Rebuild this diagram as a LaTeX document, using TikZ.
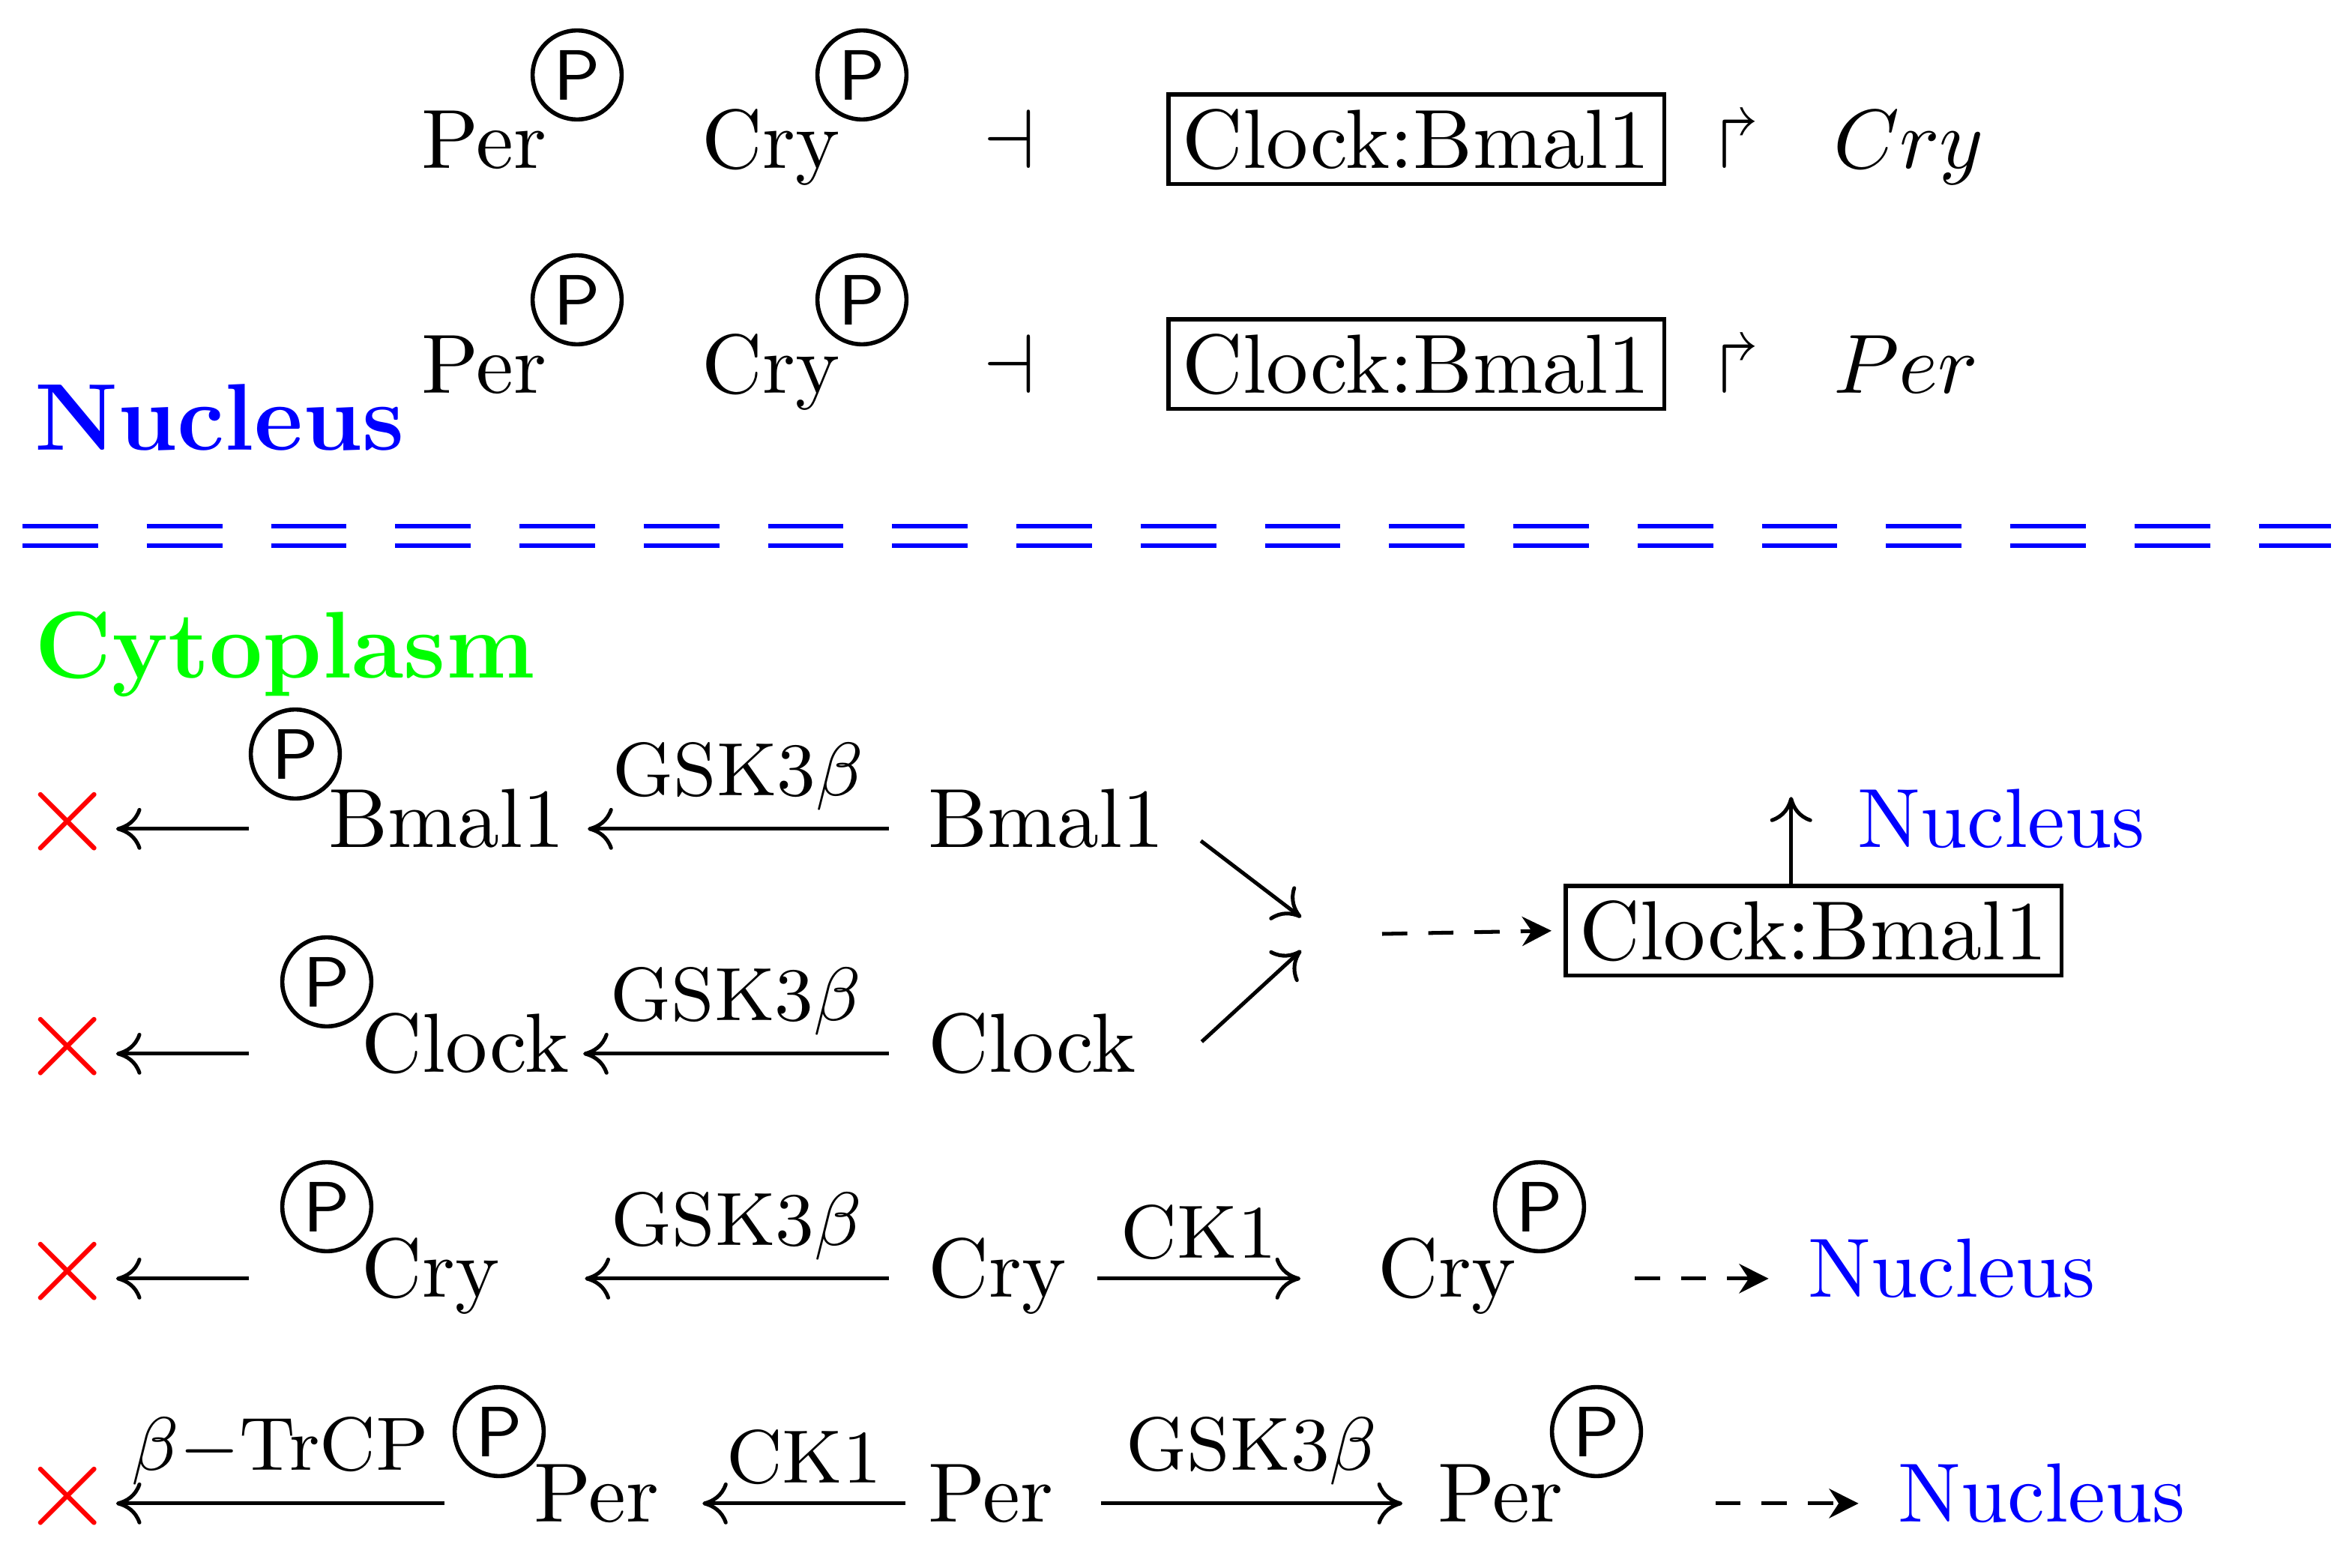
\documentclass[tikz,border=0pt]{standalone}
\usepackage{amssymb}
\usetikzlibrary{arrows.meta}
\begin{document}
\begin{tikzpicture}[x=0.17857pt,y=-0.17857pt,
  t/.style={anchor=base west,inner sep=0pt,font=\fontsize{10}{12}\selectfont},
  pc/.style={circle,draw,line width=0.5pt,minimum size=10.6pt,inner sep=0pt,font=\sffamily\fontsize{8.5}{10}\selectfont},
  bx/.style={t,draw,line width=0.5pt,inner sep=1.7pt},
  xx/.style={text=red,inner sep=0pt,font=\fontsize{14}{14}\selectfont},
  ar/.style={line width=0.45pt,-{To[length=3pt,width=5pt]}},
  da/.style={line width=0.45pt,dash pattern=on 3pt off 2.5pt,-{Stealth[length=3.5pt,width=3.5pt]}},
  lb/.style={above,inner sep=2pt,font=\fontsize{9}{11}\selectfont},
  nu/.style={t,text=blue}]
\useasboundingbox (0,0) rectangle (1563,1046);
% rows 1 and 2
\foreach \r/\y/\g in {a/112/Cry,b/262/Per}{
  \node[t] (per\r) at (280,\y) {Per};
  \node[pc] (pp\r) at (385,\y-62) {P};
  \node[t] (cry\r) at (467,\y) {Cry};
  \node[pc] (pc\r) at (575,\y-62) {P};
  \node[t] (inh\r) at (655,\y) {$\dashv$};
  \node[bx] (box\r) at (778,\y) {Clock:Bmal1};
  \node[t] (rsh\r) at (1145,\y) {$\Rsh$};
  \node[t] (gene\r) at (1222,\y) {$\g$};
}
\node[t,text=blue,font=\bfseries\fontsize{11.3}{13}\selectfont] (nuc) at (22,300) {Nucleus};
\draw[blue,line width=0.55pt,dash pattern=on 9pt off 5.8pt] (15,351) -- (1555,351) (15,364) -- (1555,364);
\node[t,text=green,font=\bfseries\fontsize{11.3}{13}\selectfont] (cyt) at (22,452) {Cytoplasm};
% row 3: Bmal1
\node[xx] (x3) at (45,548) {$\times$};
\node[pc] (p3) at (197,503) {P};
\node[t] (b3) at (218,565) {Bmal1};
\node[t] (bm3) at (618,565) {Bmal1};
\draw[ar] (p3.west |- b3.mid) -- (x3.east |- b3.mid);
\draw[ar,shorten <=4.5pt,shorten >=2.5pt] (bm3.mid west) -- node[lb,xshift=-1pt]{GSK3$\beta$} (b3.mid east);
% row 4: Clock
\node[xx] (x4) at (45,698) {$\times$};
\node[pc] (p4) at (218,655) {P};
\node[t] (c4) at (240,715) {Clock};
\node[t] (cl4) at (618,715) {Clock};
\draw[ar] ([shift={(-21,0)}]p4.west |- c4.mid) -- (x4.east |- c4.mid);
\draw[ar,shorten <=4.5pt,shorten >=1.5pt] (cl4.mid west) -- node[lb,xshift=-1.5pt]{GSK3$\beta$} (c4.mid east);
% merge
\coordinate (m) at (870,623);
\draw[ar] ([shift={(23,8)}]bm3.mid east) -- ([shift={(-2,-11)}]m);
\draw[ar] ([shift={(43,-8)}]cl4.mid east) -- ([shift={(-2,11)}]m);
\node[bx] (box3) at (1043,640) {Clock:Bmal1};
\draw[da] ([shift={(52,0)}]m) -- ([shift={(-8,0)}]box3.west);
\draw[ar] ([shift={(-15,0)}]box3.north) -- ++(0,-58) coordinate (up);
\node[nu] (n3) at (1238,565) {Nucleus};
% row 5: Cry
\node[xx] (x5) at (45,848) {$\times$};
\node[pc] (p5) at (218,805) {P};
\node[t] (c5) at (240,865) {Cry};
\node[t] (cr5) at (618,865) {Cry};
\node[t] (cp5) at (918,865) {Cry};
\node[pc] (pp5) at (1027,805) {P};
\node[nu] (n5) at (1205,865) {Nucleus};
\draw[ar] ([shift={(-21,0)}]p5.west |- c5.mid) -- (x5.east |- c5.mid);
\draw[ar,shorten <=4.5pt,shorten >=10pt] (cr5.mid west) -- node[lb,xshift=2.75pt]{GSK3$\beta$} (c5.mid east);
\draw[ar,shorten <=3.5pt,shorten >=9pt] (cr5.mid east) -- node[lb,xshift=-2.75pt]{CK1} (cp5.mid west);
\draw[da,shorten <=14pt,shorten >=4.5pt] (cp5.mid east) -- (n5.mid west);
% row 6: Per
\node[xx] (x6) at (45,998) {$\times$};
\node[pc] (p6) at (333,955) {P};
\node[t] (pe6) at (355,1015) {Per};
\node[t] (per6) at (618,1015) {Per};
\node[t] (pp6) at (958,1015) {Per};
\node[pc] (ppc6) at (1065,955) {P};
\node[nu] (n6) at (1265,1015) {Nucleus};
\draw[ar] ([xshift=-1pt]p6.west |- pe6.mid) -- node[lb]{$\beta-$TrCP} (x6.east |- pe6.mid);
\draw[ar,shorten <=2.5pt,shorten >=5pt] (per6.mid west) -- node[lb,xshift=1.25pt]{CK1} (pe6.mid east);
\draw[ar,shorten <=5.5pt,shorten >=4pt] (per6.mid east) -- node[lb,xshift=0.75pt]{GSK3$\beta$} (pp6.mid west);
\draw[da,shorten <=18pt,shorten >=4.5pt] (pp6.mid east) -- (n6.mid west);
\end{tikzpicture}
\end{document}
